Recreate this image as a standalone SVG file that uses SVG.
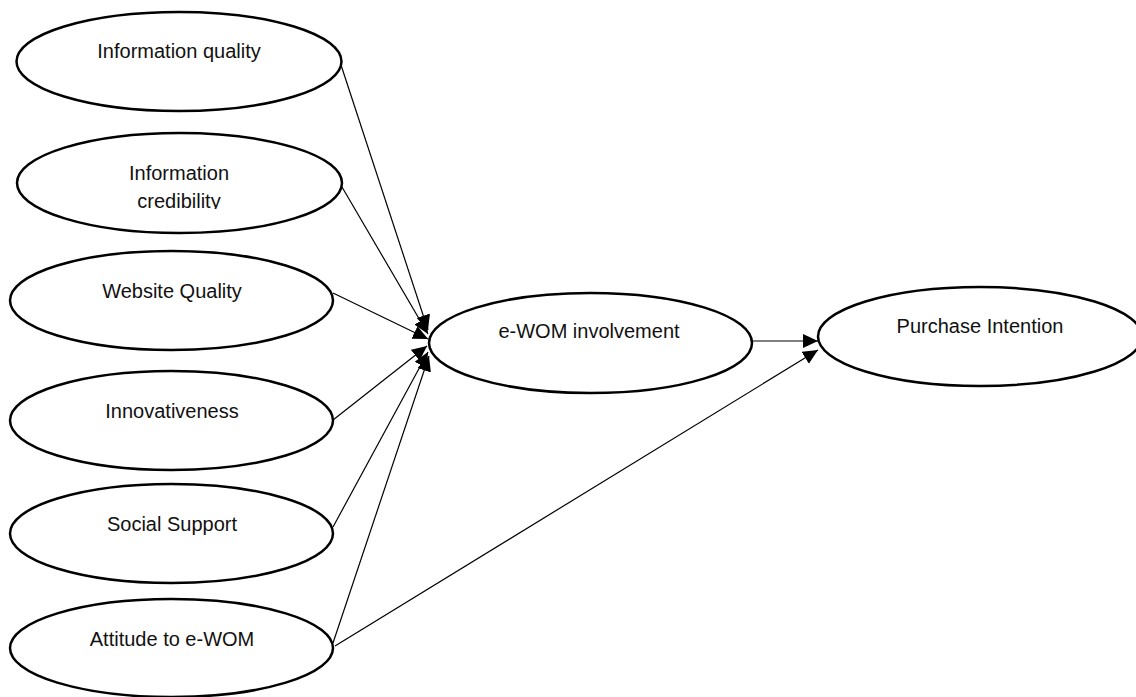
<svg xmlns="http://www.w3.org/2000/svg" width="1136" height="697" viewBox="0 0 1136 697">
<style>
.node ellipse{fill:#fff;stroke:#000;stroke-width:2.5}
.node text{font-family:"Liberation Sans",Arial,sans-serif;font-size:20px;fill:#111;text-anchor:middle}
.edges line{stroke:#000;stroke-width:1.2;marker-end:url(#arr)}
</style>
<defs>
<marker id="arr" markerUnits="userSpaceOnUse" markerWidth="16" markerHeight="15" refX="15" refY="7" orient="auto">
<path d="M0,0 L15,7 L0,14 z" fill="#000"/>
</marker>
<clipPath id="clipCred"><rect x="0" y="150" width="400" height="59"/></clipPath>
</defs>
<rect width="1136" height="697" fill="#fff"/>
<g class="edges">
<line x1="341" y1="65" x2="428" y2="330"/>
<line x1="342" y1="187" x2="428" y2="334"/>
<line x1="333" y1="293" x2="428" y2="339"/>
<line x1="333" y1="420" x2="427" y2="346"/>
<line x1="333" y1="527" x2="428" y2="352"/>
<line x1="333" y1="643" x2="429" y2="356"/>
<line x1="752" y1="341" x2="818" y2="341"/>
<line x1="335" y1="646" x2="818" y2="350"/>
</g>
<g id="n-info-quality" class="node">
<ellipse cx="179" cy="61.5" rx="162.5" ry="49.5"/>
<text x="179" y="58">Information quality</text>
</g>
<g id="n-info-credibility" class="node">
<ellipse cx="179.5" cy="183" rx="162.5" ry="50"/>
<text x="179" y="180">Information</text>
<text x="179" y="208" clip-path="url(#clipCred)">credibility</text>
</g>
<g id="n-website-quality" class="node">
<ellipse cx="171.5" cy="300.5" rx="161.5" ry="49.5"/>
<text x="172" y="297.5">Website Quality</text>
</g>
<g id="n-innovativeness" class="node">
<ellipse cx="171.5" cy="420.5" rx="161.5" ry="49.5"/>
<text x="172" y="417.5">Innovativeness</text>
</g>
<g id="n-social-support" class="node">
<ellipse cx="171.5" cy="533.5" rx="161.5" ry="49.5"/>
<text x="172" y="530.5">Social Support</text>
</g>
<g id="n-attitude" class="node">
<ellipse cx="171.5" cy="648" rx="161.5" ry="49"/>
<text x="172" y="646">Attitude to e-WOM</text>
</g>
<g id="n-ewom" class="node">
<ellipse cx="590.5" cy="343" rx="161.5" ry="50"/>
<text x="589" y="338">e-WOM involvement</text>
</g>
<g id="n-purchase" class="node">
<ellipse cx="980" cy="336.5" rx="162" ry="49.5"/>
<text x="980" y="332.5">Purchase Intention</text>
</g>
</svg>
